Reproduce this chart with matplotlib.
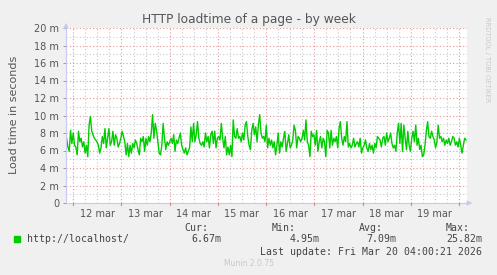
import numpy as np
import matplotlib.pyplot as plt

# load time in ms (roughly 30 min steps)
seg1 = [7.4,6.4,5.9,8.3,6.8,8.0,6.6,6.4,5.5,8.2,7.0,7.4,6.4,7.0,5.7,6.6,5.3,8.9,9.9,8.2,7.8,7.4,7.2,7.0,6.6,5.7,6.3,7.6,6.8,8.5,
        6.3,7.4,8.5,6.6,7.0,8.2,6.6,7.8,7.4,6.4,6.8,7.4,8.2,7.6,7.0,5.5,6.8,5.3,6.6,5.7,6.8,6.3,7.2,6.8,6.1,5.5,7.4,7.0,7.6,5.9,
        7.4,6.6,7.6,7.0,8.0,10.1,7.4,9.1,8.3,7.0,5.7,5.5,6.6,9.1,7.4,6.1,7.0,6.6]
seg2 = [7.0,7.4,6.8,7.8,5.9,7.2,6.8,7.4,8.0,6.6,6.1,5.7,6.3,5.5,5.9,6.3,8.7,7.0,9.1,7.0,7.8,9.3,7.4,6.8,6.6,7.0,6.4,8.0,7.0,7.6,
        6.3,7.8,8.2,6.8,8.2,6.3,7.4,7.6,7.2,9.1,7.4,6.3,7.6,5.5,6.4,5.5,6.6,5.3,9.5,7.6,7.4,8.5,7.4,7.6,7.0,8.0,7.2,8.9,9.3,7.6,
        6.6,6.1,8.3,9.1,7.8,8.7,7.0,8.9,10.1,8.0,7.4,7.6]
seg3 = [7.0,8.9,6.3,7.4,6.6,7.2,6.3,7.0,5.5,6.6,8.0,5.7,7.0,6.4,7.4,8.2,5.9,6.8,7.8,6.3,6.6,7.2,8.9,8.3,6.3,7.6,7.4,7.0,7.4,8.3,
        7.2,9.5,7.0,6.6,5.3,8.2,7.6,7.8,6.6,8.3,5.9,7.0,7.6,6.3,7.4,7.0,5.3,8.3,8.0,6.3,8.3,6.6,7.4,7.0,7.6,6.3,8.5,9.3,7.4,6.6,
        7.6,7.0,9.3,6.4,6.8,6.3,6.6,7.4,6.4,6.8,7.0,6.4,7.4,5.7,6.3,6.6]
seg4 = [7.2,6.3,5.9,6.8,6.1,6.6,5.7,6.8,6.3,7.6,7.4,7.2,6.4,7.4,7.6,6.6,8.0,7.0,7.4,8.0,6.8,6.3,6.6,5.9,8.0,9.1,6.8,9.1,5.9,8.9,
        7.4,6.1,8.2,6.6,5.9,7.4,8.2,7.0,8.9,6.6,7.4,6.1,6.6,5.3,5.5,6.6,8.2,9.3,7.6,7.4,8.2,7.6,7.2,6.3,7.0,8.9,7.4,7.6,7.0,7.4,
        6.6,7.2,6.8,7.4,6.6,7.0,7.6,7.4,6.6,7.0,6.4,7.4,6.6,5.7,6.6,7.4,7.2]
load_ms = seg1 + seg2 + seg3 + seg4

# hours relative to 12 mar 00:00
t_start, t_end = -3.3, 195.5
x_min, x_max = -3.6, 196.0
day_labels = ['12 mar', '13 mar', '14 mar', '15 mar', '16 mar', '17 mar', '18 mar', '19 mar']
y_ticks = [0, 2, 4, 6, 8, 10, 12, 14, 16, 18, 20]
y_labels = ['0'] + ['%d m' % v for v in y_ticks[1:]]

hours = np.linspace(t_start, t_end, len(load_ms))

bg = '#F0F0F0'
fig = plt.figure(figsize=(4.97, 2.75), dpi=100, facecolor=bg)
ax = fig.add_axes([66/497, 1-203/275, 401/497, 175/275])
ax.set_facecolor('white')

ax.set_xlim(x_min, x_max)
ax.set_ylim(0, 20)

# grid
mgrid = '#E49898'
ngrid = '#C8C8C8'
dot = (0, (1, 2))
for h in np.arange(-0, 200, 6):
    if h % 24 == 0:
        continue
    ax.axvline(h, color=ngrid, lw=0.8, ls=dot, zorder=1)
for v in range(1, 20, 2):
    ax.axhline(v, color=ngrid, lw=0.8, ls=dot, zorder=1)
for h in range(0, 200, 24):
    ax.axvline(h, color=mgrid, lw=0.8, ls=dot, zorder=1)
for v in y_ticks[1:]:
    ax.axhline(v, color=mgrid, lw=0.8, ls=dot, zorder=1)

ax.plot(hours, load_ms, color='#00CC00', lw=1.0, zorder=3)

for s in ['top', 'right']:
    ax.spines[s].set_visible(False)
for s in ['left', 'bottom']:
    ax.spines[s].set_color('#C8C8F0')
    ax.spines[s].set_linewidth(0.8)
ax.spines['left'].set_zorder(4)
ax.spines['bottom'].set_zorder(4)

# axis arrows
ax.annotate('', xy=(x_max + 4, 0), xytext=(x_max - 0.5, 0), annotation_clip=False,
            arrowprops=dict(arrowstyle='-|>', color='#C8C8F8', lw=0.8, mutation_scale=7))
ax.annotate('', xy=(x_min, 20.9), xytext=(x_min, 19.9), annotation_clip=False,
            arrowprops=dict(arrowstyle='-|>', color='#C8C8F8', lw=0.8, mutation_scale=7))

ax.set_yticks(y_ticks)
ax.set_yticklabels(y_labels)
ax.set_xticks([12 + 24*i for i in range(len(day_labels))])
ax.set_xticklabels(day_labels)
ax.tick_params(axis='y', length=2, width=0.7, color='#999999', labelsize=7, labelcolor='#555555', pad=3)
ax.tick_params(axis='x', length=0, labelsize=7, labelcolor='#555555', pad=4)
for h in range(0, 200, 24):
    ax.plot([h, h], [-0.25, 0], color='#E08080', lw=0.8, clip_on=False, zorder=5)

fig.text(14/497, 1-115/275, 'Load time in seconds', rotation=90, ha='center', va='center',
         fontsize=8, color='#555555')
fig.text(0.5, 1-19/275, 'HTTP loadtime of a page - by week', ha='center', va='center',
         fontsize=8.8, color='#555555')
fig.text(487/497, 1-60/275, 'RRDTOOL / TOBI OETIKER', rotation=270, ha='center', va='center',
         fontsize=4.8, color='#C8C8C8')

mono = 'DejaVu Sans Mono'
tc = '#444444'
fs = 7.1
fig.patches.append(plt.Rectangle((14/497, 1-242/275), 6/497, 6/275, transform=fig.transFigure,
                                 color='#00CC00'))
fig.text(27/497, 1-239/275, 'http://localhost/', family=mono, fontsize=fs, color=tc, va='center')
cols = [('Cur:', '6.67m', 208, 221), ('Min:', '4.95m', 296, 320),
        ('Avg:', '7.09m', 383, 396), ('Max:', '25.82m', 470, 482)]
for head, val, hx, vx in cols:
    fig.text(hx/497, 1-228/275, head, family=mono, fontsize=fs, color=tc, ha='right', va='center')
    fig.text(vx/497, 1-239/275, val, family=mono, fontsize=fs, color=tc, ha='right', va='center')
fig.text(482/497, 1-252/275, 'Last update: Fri Mar 20 04:00:21 2026', family=mono, fontsize=fs,
         color=tc, ha='right', va='center')
fig.text(0.5, 1-264/275, 'Munin 2.0.75', fontsize=5.5, color='#C8C8C8', ha='center', va='center')

fig.savefig('out.png', dpi=100, facecolor=bg)
